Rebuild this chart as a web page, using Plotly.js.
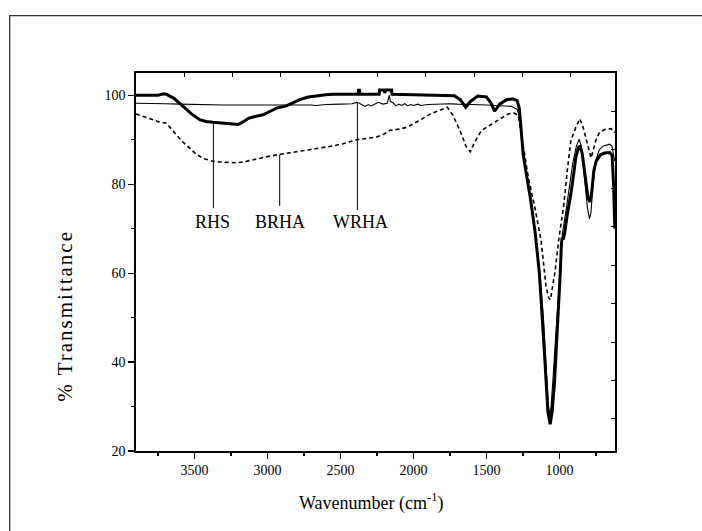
<!DOCTYPE html>
<html>
<head>
<meta charset="utf-8">
<script src="https://cdn.plot.ly/plotly-3.0.1.min.js"></script>
<style>
html,body{margin:0;padding:0;background:#fff;}
#chart{width:702px;height:531px;}
g.annotation[data-index="3"] text{letter-spacing:2px;}
</style>
</head>
<body>
<div id="chart"></div>
<script>
// ---- data ----
const rhsWav = [3900,3750,3710,3690,3640,3576,3520,3464,3420,3373,3300,3236,3200,3167,3130,3099,3030,2980,2938,2870,2820,2779,2720,2664,2600,2551,2400,2380,2376,2370,2366,2300,2235,2232,2200,2196,2190,2150,2147,2000,1800,1720,1680,1642,1610,1560,1500,1470,1444,1410,1363,1320,1290,1275,1262,1250,1236,1200,1166,1138,1103,1080,1064,1050,1034,1010,995,987,982,975,965,945,923,900,889,870,859,845,825,805,792,780,765,750,720,690,657,640,630,621];
const rhsT   = [100.0,100.0,100.3,100.2,99.3,97.5,95.8,94.5,94.1,93.9,93.7,93.5,93.4,94.0,94.8,95.1,95.6,96.4,97.1,97.6,98.3,99.0,99.6,99.9,100.1,100.2,100.2,100.2,101.1,101.1,100.2,100.2,100.2,101.2,101.2,100.5,101.2,101.2,100.2,100.1,100.0,99.9,99.0,97.3,98.6,99.8,99.6,98.3,96.4,98.0,99.0,99.2,98.8,97.0,92.0,87.0,84.0,77.0,69.0,60.0,42.0,29.0,26.0,29.0,35.5,49.5,60.0,66.5,68.0,67.5,69.0,73.5,77.6,83.0,85.9,88.3,88.5,87.0,82.0,77.0,76.0,78.0,83.0,85.1,86.6,87.0,87.1,86.5,80.0,70.0];

const wrhaWav = [3900,3800,3700,3600,3500,3400,3300,3200,3000,2800,2700,2664,2600,2500,2420,2390,2375,2350,2330,2310,2290,2260,2240,2210,2180,2165,2158,2140,2120,2100,2080,2060,2040,2020,2000,1970,1950,1900,1850,1800,1750,1700,1650,1600,1500,1400,1330,1290,1270,1255,1236,1200,1166,1138,1110,1090,1075,1066,1058,1045,1025,1005,990,980,960,935,910,885,866,850,830,810,795,785,770,750,727,700,657,640,630,621];
const wrhaT   = [98.2,98.2,98.1,98.0,97.9,97.8,97.8,97.8,97.8,97.9,97.8,97.7,97.9,98.0,98.1,98.4,98.3,97.8,97.5,97.9,97.6,98.1,98.4,98.0,98.2,100.0,98.6,98.3,97.6,98.0,97.7,98.1,97.6,97.9,97.7,98.0,97.7,97.9,98.0,98.1,98.1,98.0,97.9,97.9,97.8,97.7,97.5,96.8,94.5,90.0,85.0,77.0,69.0,61.0,50.0,38.0,30.0,28.0,30.0,36.0,46.0,57.0,66.0,69.0,73.0,79.0,84.5,88.5,90.1,88.5,82.0,75.0,72.2,73.5,80.0,85.5,87.8,88.6,89.0,88.5,86.5,85.2];

const brhaWav = [3900,3850,3800,3740,3692,3660,3623,3580,3532,3490,3441,3380,3327,3260,3212,3150,3075,3000,2916,2820,2733,2640,2551,2470,2390,2320,2253,2200,2162,2094,2046,1960,1884,1820,1768,1730,1700,1676,1640,1611,1580,1536,1490,1444,1400,1351,1310,1282,1250,1213,1173,1127,1092,1075,1062,1045,1030,1005,971,947,923,888,861,840,820,800,784,770,750,727,690,646,630,621];
const brhaT   = [95.8,95.2,94.6,94.0,93.7,92.5,91.1,89.5,88.1,86.8,85.8,85.2,85.0,84.8,84.8,85.1,85.7,86.2,86.7,87.2,87.8,88.2,88.6,89.2,90.0,90.3,90.6,91.3,92.1,92.4,92.8,94.3,95.8,96.6,97.3,95.5,93.5,91.6,88.5,87.3,89.5,92.0,93.0,93.9,94.8,95.8,96.0,95.4,89.0,81.4,75.5,67.5,57.0,54.5,54.0,57.0,60.5,67.6,75.3,82.9,89.7,92.8,94.7,93.0,90.5,87.5,85.9,87.5,90.0,91.6,92.3,92.5,92.0,91.6];

const seriesNames = ["RHS","BRHA","WRHA"];
const xTickVals = [3500,3000,2500,2000,1500,1000];
const yTickVals = [20,40,60,80,100];

// ---- chart ----
const FONT = "Liberation Serif, Times New Roman, serif";
const traces = [
  {x: wrhaWav, y: wrhaT, name: seriesNames[2], type:"scatter", mode:"lines",
   line:{color:"#000", width:1.1}},
  {x: brhaWav, y: brhaT, name: seriesNames[1], type:"scatter", mode:"lines",
   line:{color:"#000", width:1.6, dash:"4px,3px"}},
  {x: rhsWav, y: rhsT, name: seriesNames[0], type:"scatter", mode:"lines",
   line:{color:"#000", width:3}},
  {x:[0], y:[0], xaxis:"x2", yaxis:"y2", type:"scatter", mode:"lines", showlegend:false,
   hoverinfo:"skip", line:{width:0}}
];

function label(txt, wav, tVal){
  return {text: txt, x: wav, y: tVal, xref:"x", yref:"y", showarrow:false,
          xanchor:"center", yanchor:"middle", font:{family:FONT, size:18, color:"#000"}};
}
function leader(wav, t0, t1){
  return {type:"line", xref:"x", yref:"y", x0:wav, x1:wav, y0:t0, y1:t1,
          line:{color:"#000", width:1}};
}

const layout = {
  width:702, height:531,
  margin:{l:136, r:87, t:73, b:80},
  paper_bgcolor:"#fff", plot_bgcolor:"#fff",
  showlegend:false,
  font:{family:FONT, size:14, color:"#000"},
  xaxis:{range:[3900,620], tickvals:xTickVals, ticks:"outside", ticklen:6, tickwidth:1.2,
         tickcolor:"#000", showline:true, linewidth:1.6, linecolor:"#000", mirror:true,
         showgrid:false, zeroline:false, tickfont:{family:FONT, size:14, color:"#000"},
         minor:{dtick:250, tick0:0, ticks:"outside", ticklen:3.5, tickwidth:1.2, tickcolor:"#000", showgrid:false}},
  yaxis:{range:[20,105], tickvals:yTickVals, ticks:"outside", ticklen:6, tickwidth:1.2,
         tickcolor:"#000", showline:true, linewidth:1.6, linecolor:"#000", mirror:true,
         showgrid:false, zeroline:false, tickfont:{family:FONT, size:14, color:"#000"},
         minor:{dtick:10, tick0:0, ticks:"outside", ticklen:3.5, tickwidth:1.2, tickcolor:"#000", showgrid:false}},
  xaxis2:{overlaying:"x", side:"top", range:[0,9.917], dtick:1, tick0:0, ticks:"inside", ticklen:4,
          tickwidth:1, tickcolor:"#000", showticklabels:false, showline:false, showgrid:false, zeroline:false},
  yaxis2:{overlaying:"y", side:"right", range:[-9.836,0], dtick:1, tick0:0, ticks:"inside", ticklen:4,
          tickwidth:1, tickcolor:"#000", showticklabels:false, showline:false, showgrid:false, zeroline:false},
  shapes:[
    {type:"rect", xref:"paper", yref:"paper", x0:-0.2637, x1:1.6, y0:-0.6, y1:1.1517,
     line:{color:"#333", width:1.3}, fillcolor:"rgba(0,0,0,0)", layer:"below"},
    leader(3370, 93.9, 74.6),
    leader(2916, 86.7, 75.1),
    leader(2384, 98.3, 74.2)
  ],
  annotations:[
    label(seriesNames[0], 3375, 71.5),
    label(seriesNames[1], 2916, 71.5),
    label(seriesNames[2], 2363, 71.5),
    {text:"% Transmittance", xref:"paper", yref:"paper", x:-0.1489, y:0.357, textangle:-90,
     showarrow:false, xanchor:"center", yanchor:"middle", font:{family:FONT, size:21, color:"#000"}},
    {text:"Wavenumber (cm<sup>-1</sup>)", xref:"paper", yref:"paper", x:0.492, y:-0.135,
     showarrow:false, xanchor:"center", yanchor:"middle", font:{family:FONT, size:18, color:"#000"}}
  ]
};

Plotly.newPlot("chart", traces, layout, {displayModeBar:false, staticPlot:true});
</script>
</body>
</html>
